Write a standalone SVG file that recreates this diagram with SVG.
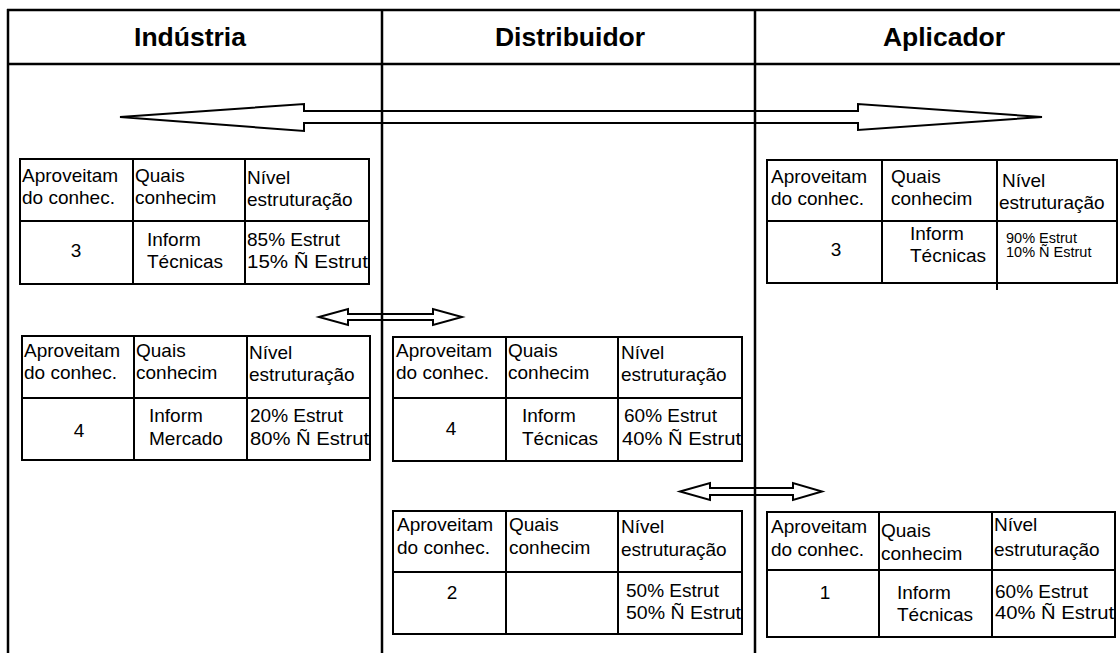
<svg xmlns="http://www.w3.org/2000/svg" width="1120" height="653" viewBox="0 0 1120 653">
<style>
.frame{stroke:#000;stroke-width:2.5;fill:none}
.tb{stroke:#000;stroke-width:2;fill:none}
.arrow{stroke:#000;stroke-width:2;fill:none;stroke-linejoin:miter}
.h{font-family:"Liberation Sans",Arial,sans-serif;font-weight:bold;font-size:26.5px;text-anchor:middle;fill:#000}
.t{font-family:"Liberation Sans",Arial,sans-serif;font-size:19px;fill:#000}
.s{font-family:"Liberation Sans",Arial,sans-serif;font-size:14.5px;fill:#000}
.c{text-anchor:middle}
</style>
<rect width="1120" height="653" fill="#fff"/>
<g id="frame">
<line class="frame" x1="7" y1="10" x2="1120" y2="10"/>
<line class="frame" x1="7" y1="64" x2="1120" y2="64"/>
<line class="frame" x1="8" y1="9" x2="8" y2="653"/>
<line class="frame" x1="382" y1="9" x2="382" y2="653"/>
<line class="frame" x1="755" y1="9" x2="755" y2="653"/>
<text class="h" x="190" y="46">Indústria</text>
<text class="h" x="570" y="46">Distribuidor</text>
<text class="h" x="944" y="46">Aplicador</text>
</g>
<g id="connectors">
<polygon class="arrow" points="120,117 304,104 304,111 858,111 858,104 1042,117 858,130 858,123 304,123 304,131"/>
<polygon class="arrow" points="319,317 348,309 348,314 433,314 433,309 462,317 433,325 433,320 348,320 348,325"/>
<polygon class="arrow" points="680,491.5 710,483 710,488 793,488 793,483 822,491.5 793,500 793,495 710,495 710,500"/>
</g>
<g id="industria-1">
<rect class="tb" x="20" y="159" width="349" height="125"/>
<line class="tb" x1="20" y1="221" x2="369" y2="221"/>
<line class="tb" x1="133" y1="159" x2="133" y2="284"/>
<line class="tb" x1="245" y1="159" x2="245" y2="284"/>
<text class="t" x="22" y="182">Aproveitam</text>
<text class="t" x="22" y="204">do conhec.</text>
<text class="t" x="135" y="182">Quais</text>
<text class="t" x="135" y="204">conhecim</text>
<text class="t" x="247" y="184">Nível</text>
<text class="t" x="247" y="206">estruturação</text>
<text class="t c" x="76" y="257">3</text>
<text class="t" x="147" y="246">Inform</text>
<text class="t" x="147" y="268">Técnicas</text>
<text class="t" x="247" y="246">85% Estrut</text>
<text class="t" x="247" y="268" textLength="121" lengthAdjust="spacingAndGlyphs">15% Ñ Estrut</text>
</g>
<g id="aplicador-1">
<rect class="tb" x="767" y="160" width="350" height="123"/>
<line class="tb" x1="767" y1="221" x2="1117" y2="221"/>
<line class="tb" x1="882" y1="160" x2="882" y2="283"/>
<line class="tb" x1="997" y1="160" x2="997" y2="290"/>
<text class="t" x="771" y="183">Aproveitam</text>
<text class="t" x="771" y="205">do conhec.</text>
<text class="t" x="891" y="183">Quais</text>
<text class="t" x="891" y="205">conhecim</text>
<text class="t" x="1002" y="187">Nível</text>
<text class="t" x="999" y="209">estruturação</text>
<text class="t c" x="836" y="256">3</text>
<text class="t" x="910" y="240">Inform</text>
<text class="t" x="910" y="262">Técnicas</text>
<text class="s" x="1006" y="243">90% Estrut</text>
<text class="s" x="1006" y="257">10% Ñ Estrut</text>
</g>
<g id="industria-2">
<rect class="tb" x="22" y="336" width="348" height="124"/>
<line class="tb" x1="22" y1="398" x2="370" y2="398"/>
<line class="tb" x1="134" y1="336" x2="134" y2="460"/>
<line class="tb" x1="247" y1="336" x2="247" y2="460"/>
<text class="t" x="24" y="357">Aproveitam</text>
<text class="t" x="24" y="379">do conhec.</text>
<text class="t" x="136" y="357">Quais</text>
<text class="t" x="136" y="379">conhecim</text>
<text class="t" x="249" y="359">Nível</text>
<text class="t" x="249" y="381">estruturação</text>
<text class="t c" x="79" y="437">4</text>
<text class="t" x="149" y="422">Inform</text>
<text class="t" x="149" y="445">Mercado</text>
<text class="t" x="250" y="422">20% Estrut</text>
<text class="t" x="250" y="445" textLength="119" lengthAdjust="spacingAndGlyphs">80% Ñ Estrut</text>
</g>
<g id="distribuidor-1">
<rect class="tb" x="393" y="337" width="349" height="124"/>
<line class="tb" x1="393" y1="398" x2="742" y2="398"/>
<line class="tb" x1="506" y1="337" x2="506" y2="461"/>
<line class="tb" x1="618" y1="337" x2="618" y2="461"/>
<text class="t" x="396" y="357">Aproveitam</text>
<text class="t" x="396" y="379">do conhec.</text>
<text class="t" x="508" y="357">Quais</text>
<text class="t" x="508" y="379">conhecim</text>
<text class="t" x="621" y="359">Nível</text>
<text class="t" x="621" y="381">estruturação</text>
<text class="t c" x="451" y="435">4</text>
<text class="t" x="522" y="422">Inform</text>
<text class="t" x="522" y="445">Técnicas</text>
<text class="t" x="624" y="422">60% Estrut</text>
<text class="t" x="622" y="445" textLength="119" lengthAdjust="spacingAndGlyphs">40% Ñ Estrut</text>
</g>
<g id="distribuidor-2">
<rect class="tb" x="393" y="511" width="349" height="123"/>
<line class="tb" x1="393" y1="572" x2="742" y2="572"/>
<line class="tb" x1="506" y1="511" x2="506" y2="634"/>
<line class="tb" x1="618" y1="511" x2="618" y2="634"/>
<text class="t" x="397" y="531">Aproveitam</text>
<text class="t" x="397" y="554">do conhec.</text>
<text class="t" x="509" y="531">Quais</text>
<text class="t" x="509" y="554">conhecim</text>
<text class="t" x="621" y="533">Nível</text>
<text class="t" x="621" y="556">estruturação</text>
<text class="t c" x="452" y="599">2</text>
<text class="t" x="626" y="597">50% Estrut</text>
<text class="t" x="626" y="619" textLength="115" lengthAdjust="spacingAndGlyphs">50% Ñ Estrut</text>
</g>
<g id="aplicador-2">
<rect class="tb" x="767" y="512" width="348" height="125"/>
<line class="tb" x1="767" y1="570" x2="1115" y2="570"/>
<line class="tb" x1="879" y1="512" x2="879" y2="637"/>
<line class="tb" x1="992" y1="512" x2="992" y2="637"/>
<text class="t" x="771" y="533">Aproveitam</text>
<text class="t" x="771" y="556">do conhec.</text>
<text class="t" x="881" y="537">Quais</text>
<text class="t" x="881" y="560">conhecim</text>
<text class="t" x="994" y="531">Nível</text>
<text class="t" x="994" y="556">estruturação</text>
<text class="t c" x="825" y="599">1</text>
<text class="t" x="897" y="599">Inform</text>
<text class="t" x="897" y="621">Técnicas</text>
<text class="t" x="995" y="598">60% Estrut</text>
<text class="t" x="995" y="619" textLength="119" lengthAdjust="spacingAndGlyphs">40% Ñ Estrut</text>
</g>
</svg>
